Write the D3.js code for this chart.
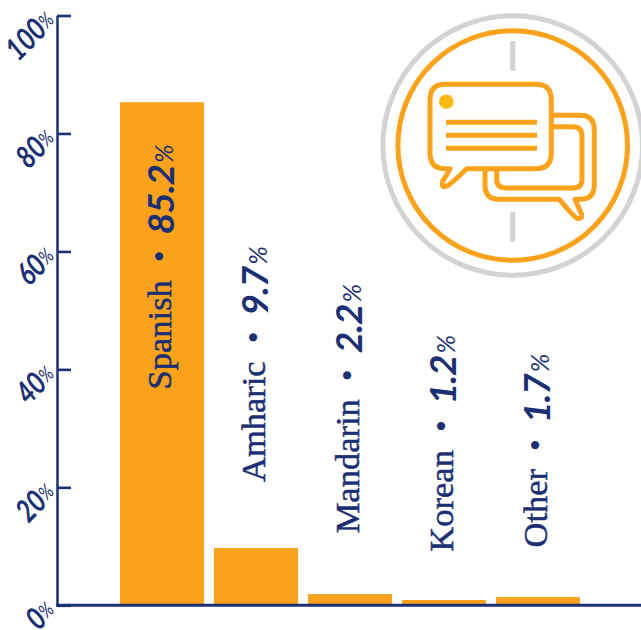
<!DOCTYPE html>
<html>
<meta charset="utf-8">
<script src="https://d3js.org/d3.v7.min.js"></script>
<style>
  html, body { margin: 0; padding: 0; background: #fff; overflow: hidden; }
  svg { display: block; }
  .name { font-family: "Liberation Serif", serif; font-size: 34.5px; stroke: #1b2f73; stroke-width: 0.5px; }
  .dot { font-family: "Liberation Serif", serif; font-size: 34px; }
  .num { font-family: "Lato", sans-serif; font-style: italic; font-size: 37px; font-weight: 700; letter-spacing: -1px; }
  .pct { font-size: 25px; font-weight: 400; letter-spacing: 0; }
</style>
<body>
<div id="vis"></div>
<script>
// chart values
var languages = ["Spanish", "Amharic", "Mandarin", "Korean", "Other"];
var percentLabels = ["85.2", "9.7", "2.2", "1.2", "1.7"];
var barValues = [85.3, 9.7, 1.9, 0.9, 1.4];
var yTicks = [0, 20, 40, 60, 80, 100];

// where each rotated label starts, read as % on the y axis
var labelStart = [36.6, 20.9, 12.2, 9.1, 9.8];

var navy = "#1b2f73", orange = "#faa21b", grey = "#d1d3d4";
var total_width = 641, total_height = 630;

var svg = d3.select("#vis")
  .append("svg")
    .attr("width", total_width)
    .attr("height", total_height);

var y_scale = d3.scaleLinear().domain([0, 100]).range([605.3, 15.5]);
var x_scale = d3.scaleBand()
  .domain(languages)
  .range([115, 585])
  .paddingInner(10 / 94)
  .paddingOuter(5 / 94);

// bars
svg.append("g")
  .selectAll("rect")
  .data(languages)
  .join("rect")
    .attr("x", function(d) { return x_scale(d); })
    .attr("width", x_scale.bandwidth())
    .attr("y", function(d, i) { return y_scale(barValues[i]); })
    .attr("height", function(d, i) { return y_scale(0) - y_scale(barValues[i]); })
    .attr("fill", orange);

// y axis
var yAxis = svg.append("g")
  .attr("transform", "translate(57,0)")
  .call(d3.axisLeft(y_scale).tickValues(yTicks).tickSizeInner(-14).tickSizeOuter(0).tickFormat(function(d) { return d; }));
yAxis.select(".domain").attr("stroke", navy).attr("stroke-width", 2.5);
yAxis.selectAll(".tick line").attr("stroke", navy).attr("stroke-width", 2.6);
yAxis.selectAll(".tick text").remove();
yAxis.selectAll(".tick").append("text")
  .attr("fill", navy)
  .attr("text-anchor", "end")
  .attr("transform", "translate(-9,-2) rotate(-45) scale(0.8,1)")
  .attr("dy", "0.42em")
  .style("font-family", "Lato, sans-serif")
  .style("font-style", "italic")
  .style("font-weight", "700")
  .style("font-size", "31px")
  .each(function(d) {
    var t = d3.select(this);
    t.append("tspan").text(d);
    t.append("tspan").style("font-size", "20px").style("font-weight", "400").attr("dy", "-3px").text("%");
  });

// baseline
svg.append("line")
  .attr("x1", 56).attr("x2", total_width)
  .attr("y1", y_scale(0)).attr("y2", y_scale(0))
  .attr("stroke", navy).attr("stroke-width", 3);

// rotated labels
var labels = svg.append("g")
  .selectAll("text")
  .data(languages)
  .join("text")
    .attr("fill", navy)
    .attr("transform", function(d, i) {
      return "translate(" + (x_scale(d) + x_scale.bandwidth() / 2 + 9) + "," + y_scale(labelStart[i]) + ") rotate(-90)";
    });
labels.append("tspan").attr("class", "name").text(function(d) { return d; });
labels.append("tspan").attr("class", "dot").attr("dx", 18).text("\u2022");
labels.append("tspan").attr("class", "num").attr("dx", 16).attr("dy", 3).text(function(d, i) { return percentLabels[i]; });
labels.append("tspan").attr("class", "num pct").attr("dx", 2).attr("dy", -1).text("%");

// icon
var icon = svg.append("g").attr("fill", "none").attr("stroke-linejoin", "round");
icon.append("circle").attr("cx", 512.7).attr("cy", 145.5).attr("r", 129.8).attr("stroke", grey).attr("stroke-width", 5);
icon.append("circle").attr("cx", 512.7).attr("cy", 145.5).attr("r", 114.8).attr("stroke", orange).attr("stroke-width", 5);
icon.append("line").attr("x1", 512.7).attr("x2", 512.7).attr("y1", 41).attr("y2", 70.7).attr("stroke", grey).attr("stroke-width", 5);
icon.append("line").attr("x1", 512.7).attr("x2", 512.7).attr("y1", 212).attr("y2", 241.7).attr("stroke", grey).attr("stroke-width", 5);

// back bubble
icon.append("path")
  .attr("d", "M551.3,115.3H580Q594.3,115.3 594.3,130V185Q594.3,199.3 580,199.3H575L581.5,214Q583,219 577.5,218.5Q575,218 559.3,199.3H499Q485,199.3 485,185V168.7")
  .attr("stroke", orange).attr("stroke-width", 5);
icon.append("path")
  .attr("d", "M551.3,126.7H573Q582,126.7 582,136V179Q582,188 573,188H506Q496.7,188 496.7,179V168.7")
  .attr("stroke", orange).attr("stroke-width", 5);

// front bubble
icon.append("path")
  .attr("d", "M445,84.3H536Q551.3,84.3 551.3,100V153Q551.3,168.7 536,168.7H466.7Q452,183 447,186Q441,188.5 442.7,181Q447,175 450,168.7H445Q430,168.7 430,153V100Q430,84.3 445,84.3Z")
  .attr("fill", "#fff").attr("stroke", orange).attr("stroke-width", 5);
icon.append("circle").attr("cx", 446.3).attr("cy", 101.7).attr("r", 7.3).attr("fill", "#fdb913");
icon.selectAll(".txt").data([122.3, 135.3, 148.3]).join("line")
  .attr("x1", 446).attr("x2", 537)
  .attr("y1", function(d) { return d; }).attr("y2", function(d) { return d; })
  .attr("stroke", orange).attr("stroke-width", 5);
</script>
</body>
</html>
